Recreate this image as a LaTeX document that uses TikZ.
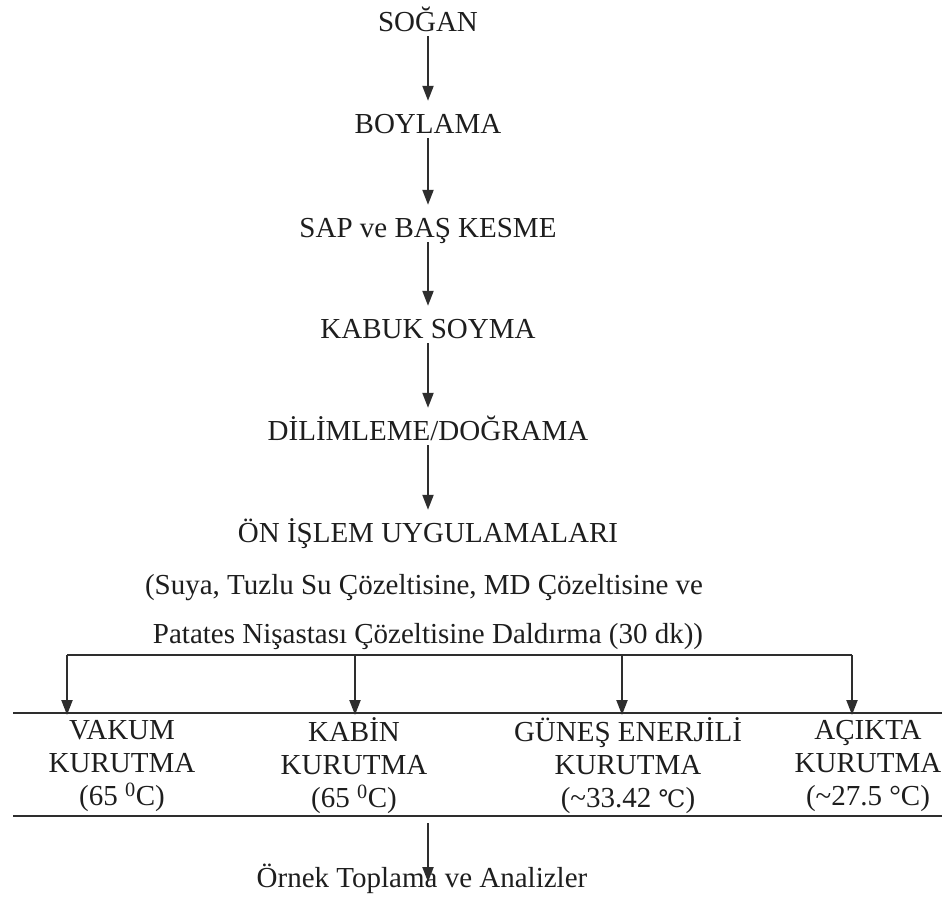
\documentclass[tikz,border=0pt]{standalone}
\usepackage{fontspec}
\setmainfont{Liberation Serif}
\newfontfamily\symfont{DejaVu Serif}
\usetikzlibrary{arrows.meta}
\definecolor{ink}{HTML}{1E1E1E}
\definecolor{linec}{HTML}{2E2E2E}
\begin{document}
\begin{tikzpicture}[x=1pt,y=-1pt,
  lbl/.style={text=ink, font=\fontsize{29}{33}\selectfont, inner sep=0pt, text height=20pt, text depth=0pt},
  col/.style={text=ink, font=\fontsize{29}{33}\selectfont, align=center, inner sep=0pt},
  arr/.style={draw=linec, line width=2.1pt, -{Triangle[length=15pt,width=11pt]}},
  stepline/.style={draw=linec, line width=2.1pt}]
\useasboundingbox[fill=white] (0,0) rectangle (947,905);

% main chain
\node[lbl] (s1) at (428,21)  {SOĞAN};
\node[lbl] (s2) at (428,123) {BOYLAMA};
\node[lbl] (s3) at (428,227) {SAP ve BAŞ KESME};
\node[lbl] (s4) at (428,328) {KABUK SOYMA};
\node[lbl] (s5) at (428,430) {DİLİMLEME/DOĞRAMA};
\node[lbl] (s6) at (428,532) {ÖN İŞLEM UYGULAMALARI};
\node[lbl] (s7) at (424,584) {(Suya, Tuzlu Su Çözeltisine, MD Çözeltisine ve};
\node[lbl] (s8) at (428,633) {Patates Nişastası Çözeltisine Daldırma (30 dk))};

\foreach \a/\b in {s1/s2,s2/s3,s3/s4,s4/s5,s5/s6}
  \draw[arr, shorten <=5pt, shorten >=12pt] (\a.south) -- (\b.north);

% bracket
\coordinate (b1) at (67,655);
\coordinate (b2) at (355,655);
\coordinate (b3) at (622,655);
\coordinate (b4) at (852,655);
\draw[stepline] (b1) -- (b4);

% rules
\coordinate (l1a) at (13,713);
\coordinate (l1b) at (942,713);
\coordinate (l2a) at (13,816);
\coordinate (l2b) at (942,816);
\draw[stepline] (l1a) -- (l1b);
\draw[stepline] (l2a) -- (l2b);

\foreach \c in {b1,b2,b3,b4}
  \draw[arr] (\c) -- ([yshift=-2pt]\c |- l1a);

% columns
\node[col] (c1) at (122,766) {VAKUM\\KURUTMA\\(65 \textsuperscript{0}C)};
\node[col] (c2) at (354,766) {KABİN\\KURUTMA\\(65 \textsuperscript{0}C)};
\node[col] (c3) at (628,766) {GÜNEŞ ENERJİLİ\\KURUTMA\\(\textasciitilde33.42 {\symfont\fontsize{24}{33}\selectfont ℃})};
\node[col] (c4) at (868,766) {AÇIKTA\\KURUTMA\\(\textasciitilde27.5 °C)};

% final
\coordinate (bs) at (428,816);
\node[lbl] (o) at (422,877) {Örnek Toplama ve Analizler};
\draw[arr, shorten <=7pt, shorten >=5pt] (bs) -- (bs |- o.base);
\end{tikzpicture}
\end{document}
